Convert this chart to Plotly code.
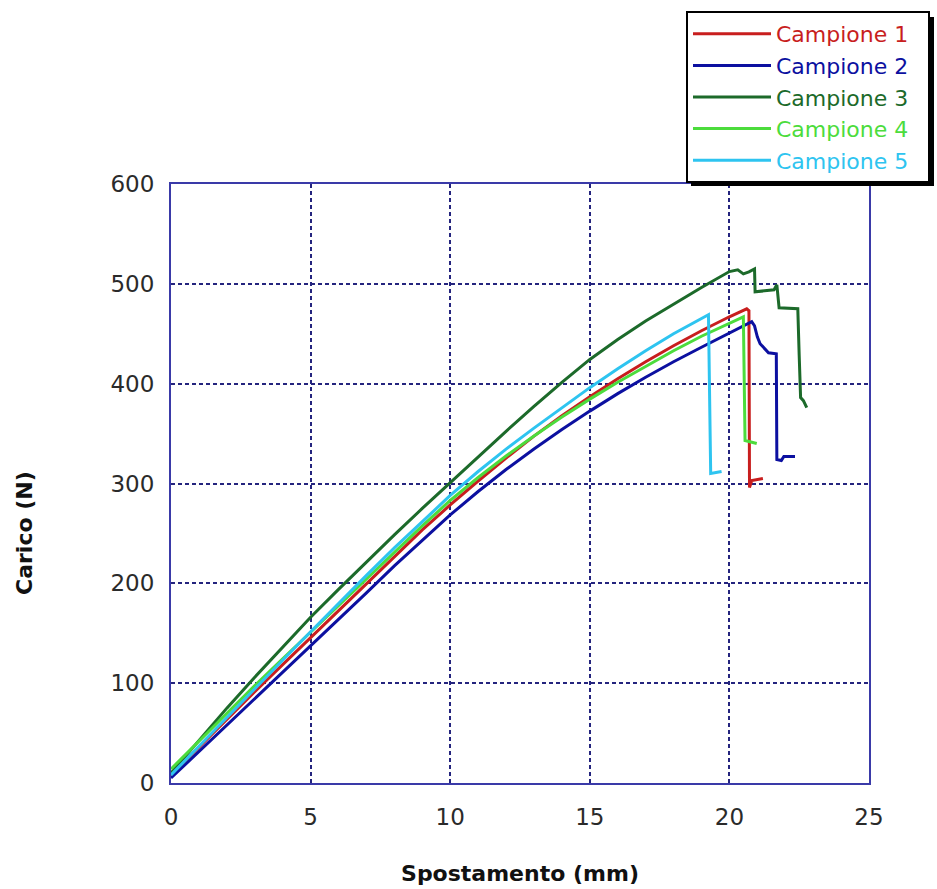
import plotly.graph_objects as go

# Load-displacement curves (Spostamento in mm, Carico in N)
c1_x = [0, 1, 2, 3, 4, 5, 6, 7, 8, 9, 10, 11, 12, 13, 14, 15, 16, 17, 18, 19, 20, 20.62, 20.7, 20.72, 20.8, 21.2]
c1_y = [8, 36, 64, 91.5, 118.5, 145.5, 172.5, 200, 227, 253.5, 278.5, 302.5, 325.5, 347.5, 368, 387, 405, 422, 438, 453, 467, 475, 473, 296, 303, 305]

c2_x = [0, 1, 2, 3, 4, 5, 6, 7, 8, 9, 10, 11, 12, 13, 14, 15, 16, 17, 18, 19, 20, 20.5, 20.8, 20.9, 21.0, 21.1, 21.4, 21.68, 21.7, 21.86, 21.95, 22.35]
c2_y = [5, 31.5, 58, 84.5, 110.5, 136.5, 163.5, 190.5, 217.5, 243.5, 268.5, 292, 314, 334.5, 354, 372.5, 390, 406.5, 422, 436.5, 450.5, 457.5, 462, 458, 447, 440, 431, 430, 324, 323, 327, 327]

c3_x = [0, 1, 2, 3, 4, 5, 6, 7, 8, 9, 10, 11, 12, 13, 14, 15, 16, 17, 18, 19, 20, 20.3, 20.5, 20.7, 20.9, 20.92, 21.6, 21.7, 21.78, 22.45, 22.5, 22.55, 22.65, 22.77]
c3_y = [10, 43, 75, 106, 136.5, 166, 194, 221.5, 248.5, 275, 301, 326.8, 352.3, 377.3, 401.3, 424.3, 444.3, 462.8, 479.8, 496.3, 512.3, 514, 510, 512, 515, 492, 494, 499, 476, 475, 428, 386, 383, 376]

c4_x = [0, 1, 2, 3, 4, 5, 6, 7, 8, 9, 10, 11, 12, 13, 14, 15, 16, 17, 18, 19, 20, 20.5, 20.56, 20.8, 20.98]
c4_y = [14, 42, 70, 97.5, 124.5, 151, 178, 205, 231.5, 257.5, 283, 306, 327.5, 347.5, 366.5, 384.5, 401.5, 417.5, 433, 447.5, 461, 467, 343, 341, 340]

c5_x = [0, 1, 2, 3, 4, 5, 6, 7, 8, 9, 10, 11, 12, 13, 14, 15, 16, 17, 18, 19, 19.25, 19.33, 19.72]
c5_y = [8, 37, 66, 94.5, 123, 151.5, 180, 208, 235.5, 262, 288, 312, 334.5, 355.5, 376, 396, 415, 433, 450, 465.5, 469, 310, 312]

names = ["Campione 1", "Campione 2", "Campione 3", "Campione 4", "Campione 5"]
colors = ["#c81e1e", "#0c10a0", "#1c6a2a", "#4cdc3c", "#2ec4f0"]
series = [(c1_x, c1_y), (c2_x, c2_y), (c3_x, c3_y), (c4_x, c4_y), (c5_x, c5_y)]

x_ticks = [0, 5, 10, 15, 20, 25]
y_ticks = [0, 100, 200, 300, 400, 500, 600]

W, H = 937, 889
L, R, T, B = 171, 68, 184, 106
pw, ph = W - L - R, H - T - B

fig = go.Figure()
for (xs, ys), name, col in zip(series, names, colors):
    fig.add_trace(go.Scatter(
        x=xs, y=ys, mode="lines",
        name=f"<span style='color:{col}'>{name}</span>&nbsp;&nbsp;",
        line=dict(color=col, width=3),
    ))

grid = "#24247e"
frame = "#3a3aa8"
axis_common = dict(
    showgrid=True, gridcolor=grid, gridwidth=2, griddash="4px,3px",
    showline=True, linecolor=frame, linewidth=2, mirror=True,
    ticks="", zeroline=False, automargin=False,
    tickfont=dict(family="DejaVu Sans", size=23, color="#2a2a2a"),
)

fig.update_xaxes(
    range=[0, 25], tickvals=x_ticks, ticktext=[str(v) for v in x_ticks],
    ticklabelstandoff=12,
    title=dict(text="<b>Spostamento (mm)</b>", standoff=37,
               font=dict(family="DejaVu Sans", size=22, color="#111111")),
    **axis_common,
)
fig.update_yaxes(
    range=[0, 600], tickvals=y_ticks, ticktext=[str(v) for v in y_ticks],
    ticklabelstandoff=10,
    **axis_common,
)


def px_to_paper(px, py):
    return (px - L) / pw, (H - B - py) / ph


# y-axis title, placed as rotated text left of the tick labels
tx, ty = px_to_paper(24, 533)
fig.add_annotation(text="<b>Carico (N)</b>", xref="paper", yref="paper", x=tx, y=ty,
                   textangle=-90, showarrow=False, xanchor="center", yanchor="middle",
                   font=dict(family="DejaVu Sans", size=22, color="#111111"))

# drop shadow behind the legend box
sx0, sy0 = px_to_paper(691, 186)
sx1, sy1 = px_to_paper(934, 17)
fig.add_shape(type="rect", xref="paper", yref="paper", x0=sx0, y0=sy0, x1=sx1, y1=sy1,
              fillcolor="black", line=dict(width=0), layer="above")

lx, ly = px_to_paper(686, 11)
fig.update_layout(
    width=W, height=H,
    margin=dict(l=L, r=R, t=T, b=B, autoexpand=False),
    paper_bgcolor="white", plot_bgcolor="white",
    legend=dict(
        x=lx, y=ly, xanchor="left", yanchor="top",
        bgcolor="white", bordercolor="black", borderwidth=2,
        font=dict(family="DejaVu Sans", size=22),
        itemwidth=78, tracegroupgap=0,
    ),
    showlegend=True,
)

fig.write_html("out.html")
